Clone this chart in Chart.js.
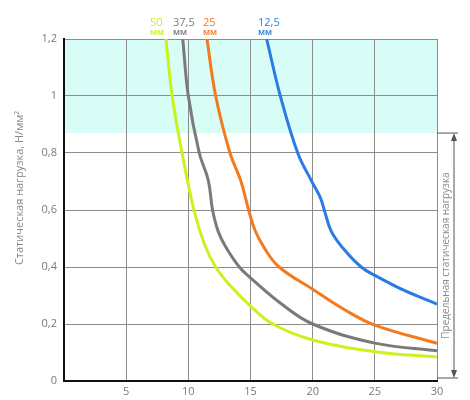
<!DOCTYPE html>
<html>
<head>
<meta charset="utf-8">
<script src="https://cdn.jsdelivr.net/npm/chart.js@4"></script>
<style>
  html, body { margin: 0; padding: 0; background: #fff; }
  #wrap { width: 470px; height: 400px; }
</style>
</head>
<body>
<div id="wrap"><canvas id="chart"></canvas></div>
<script>
// thickness values, mm
const thickness = ["50", "37,5", "25", "12,5"];
const colors = ["#c9f31d", "#7a7a7a", "#f47a1f", "#2b7be4"];

// curves: x = deflection, y = static load, N/mm2
const x50 = [8.2, 8.7, 9.5, 10.45, 11.3, 12.2, 13.4, 15, 16.8, 20, 25, 30];
const y50 = [1.2, 1.0, 0.8, 0.6, 0.48, 0.4, 0.333, 0.263, 0.2, 0.144, 0.103, 0.084];

const x375 = [9.55, 10, 10.88, 11.6, 11.95, 12.4, 13.0, 14.1, 15, 17.5, 20, 25, 30];
const y375 = [1.2, 1.0, 0.8, 0.705, 0.6, 0.525, 0.471, 0.4, 0.362, 0.27, 0.2, 0.133, 0.106];

const x25 = [11.5, 12.2, 13.35, 14.2, 14.85, 15.35, 16.1, 17.3, 20, 22.5, 25, 30];
const y25 = [1.2, 1.0, 0.8, 0.705, 0.6, 0.53, 0.468, 0.4, 0.322, 0.252, 0.196, 0.132];

const x125 = [16.3, 17.4, 18.8, 19.87, 20.6, 21.0, 21.5, 22.4, 23.9, 25.2, 27.5, 30];
const y125 = [1.2, 1.0, 0.8, 0.705, 0.645, 0.59, 0.525, 0.468, 0.4, 0.366, 0.315, 0.27];

const xTicks = [5, 10, 15, 20, 25, 30];
const yTicks = [0, 0.2, 0.4, 0.6, 0.8, 1, 1.2];

// limit zone
const limitFrom = 0.87;
const limitTo = 1.2;

function pts(xs, ys) {
    return xs.map((x, i) => ({ x: x, y: ys[i] }));
}

const series = [pts(x50, y50), pts(x375, y375), pts(x25, y25), pts(x125, y125)];

const zonePlugin = {
    id: "zone",
    beforeDraw(chart) {
        const { ctx, chartArea, scales } = chart;
        const yTop = scales.y.getPixelForValue(limitTo);
        const yBot = scales.y.getPixelForValue(limitFrom);
        ctx.save();
        ctx.fillStyle = "#d8fdf6";
        ctx.fillRect(chartArea.left, yTop, chartArea.right - chartArea.left, yBot - yTop);
        ctx.restore();
    },
    afterDraw(chart) {
        const { ctx, chartArea, scales } = chart;
        ctx.save();
        // y axis title
        ctx.fillStyle = "#8a8a8a";
        ctx.font = "11px 'Open Sans'";
        ctx.textAlign = "center";
        ctx.textBaseline = "middle";
        ctx.translate(20, 188);
        ctx.rotate(-Math.PI / 2);
        ctx.fillText("Статическая нагрузка, Н/мм²", 0, 0);
        ctx.restore();

        // limit arrow on right
        const yTop = scales.y.getPixelForValue(limitFrom);
        const yBot = scales.y.getPixelForValue(0) - 3;
        const ax = 454;
        ctx.save();
        ctx.strokeStyle = "#555";
        ctx.fillStyle = "#555";
        ctx.lineWidth = 1;
        ctx.beginPath();
        ctx.moveTo(chartArea.right, yTop); ctx.lineTo(458, yTop);
        ctx.moveTo(chartArea.right, yBot); ctx.lineTo(458, yBot);
        ctx.moveTo(ax, yTop + 2); ctx.lineTo(ax, yBot - 2);
        ctx.stroke();
        ctx.beginPath();
        ctx.moveTo(ax, yTop); ctx.lineTo(ax - 3, yTop + 8); ctx.lineTo(ax + 3, yTop + 8); ctx.closePath();
        ctx.moveTo(ax, yBot); ctx.lineTo(ax - 3, yBot - 8); ctx.lineTo(ax + 3, yBot - 8); ctx.closePath();
        ctx.fill();
        ctx.fillStyle = "#8a8a8a";
        ctx.font = "10px 'Open Sans'";
        ctx.textAlign = "center";
        ctx.textBaseline = "middle";
        ctx.translate(446, (yTop + yBot) / 2);
        ctx.rotate(-Math.PI / 2);
        ctx.fillText("Предельная статическая нагрузка", 0, 0);
        ctx.restore();

        // thickness labels on top
        const labelX = [150, 173, 203, 258];
        ctx.save();
        ctx.textAlign = "left";
        ctx.textBaseline = "middle";
        thickness.forEach((t, i) => {
            ctx.fillStyle = colors[i];
            ctx.font = "11px 'Open Sans'";
            ctx.fillText(t, labelX[i], 23);
            ctx.font = "600 9px 'Open Sans'";
            ctx.fillText("мм", labelX[i], 32);
        });
        ctx.restore();
    }
};

new Chart(document.getElementById("chart"), {
    type: "line",
    data: {
        datasets: series.map((d, i) => ({
            label: thickness[i] + " мм",
            data: d,
            borderColor: colors[i],
            borderWidth: 3,
            pointRadius: 0,
            fill: false,
            tension: 0.4
        }))
    },
    options: {
        responsive: true,
        maintainAspectRatio: false,
        animation: false,
        layout: { padding: { top: 39, right: 33, left: 0, bottom: 0 } },
        plugins: {
            legend: { display: false },
            tooltip: { enabled: false }
        },
        scales: {
            x: {
                type: "linear",
                min: 0,
                max: 30,
                afterBuildTicks: (s) => { s.ticks = xTicks.map(v => ({ value: v })); },
                afterFit: (s) => { s.height = 19; },
                ticks: {
                    color: "#7a7a7a",
                    font: { family: "'Open Sans'", size: 11 },
                    maxRotation: 0,
                    padding: 4
                },
                grid: { color: "#8c8c8c", lineWidth: 1, drawTicks: false },
                border: { color: "#111", width: 2 }
            },
            y: {
                min: 0,
                max: 1.2,
                afterBuildTicks: (s) => { s.ticks = yTicks.map(v => ({ value: v })); },
                afterFit: (s) => { s.width = 64; },
                ticks: {
                    color: "#7a7a7a",
                    font: { family: "'Open Sans'", size: 11 },
                    padding: 7,
                    callback: (v) => String(Math.round(v * 10) / 10).replace(".", ",")
                },
                grid: { color: "#8c8c8c", lineWidth: 1, drawTicks: false },
                border: { color: "#111", width: 2 }
            }
        }
    },
    plugins: [zonePlugin]
});
</script>
</body>
</html>
